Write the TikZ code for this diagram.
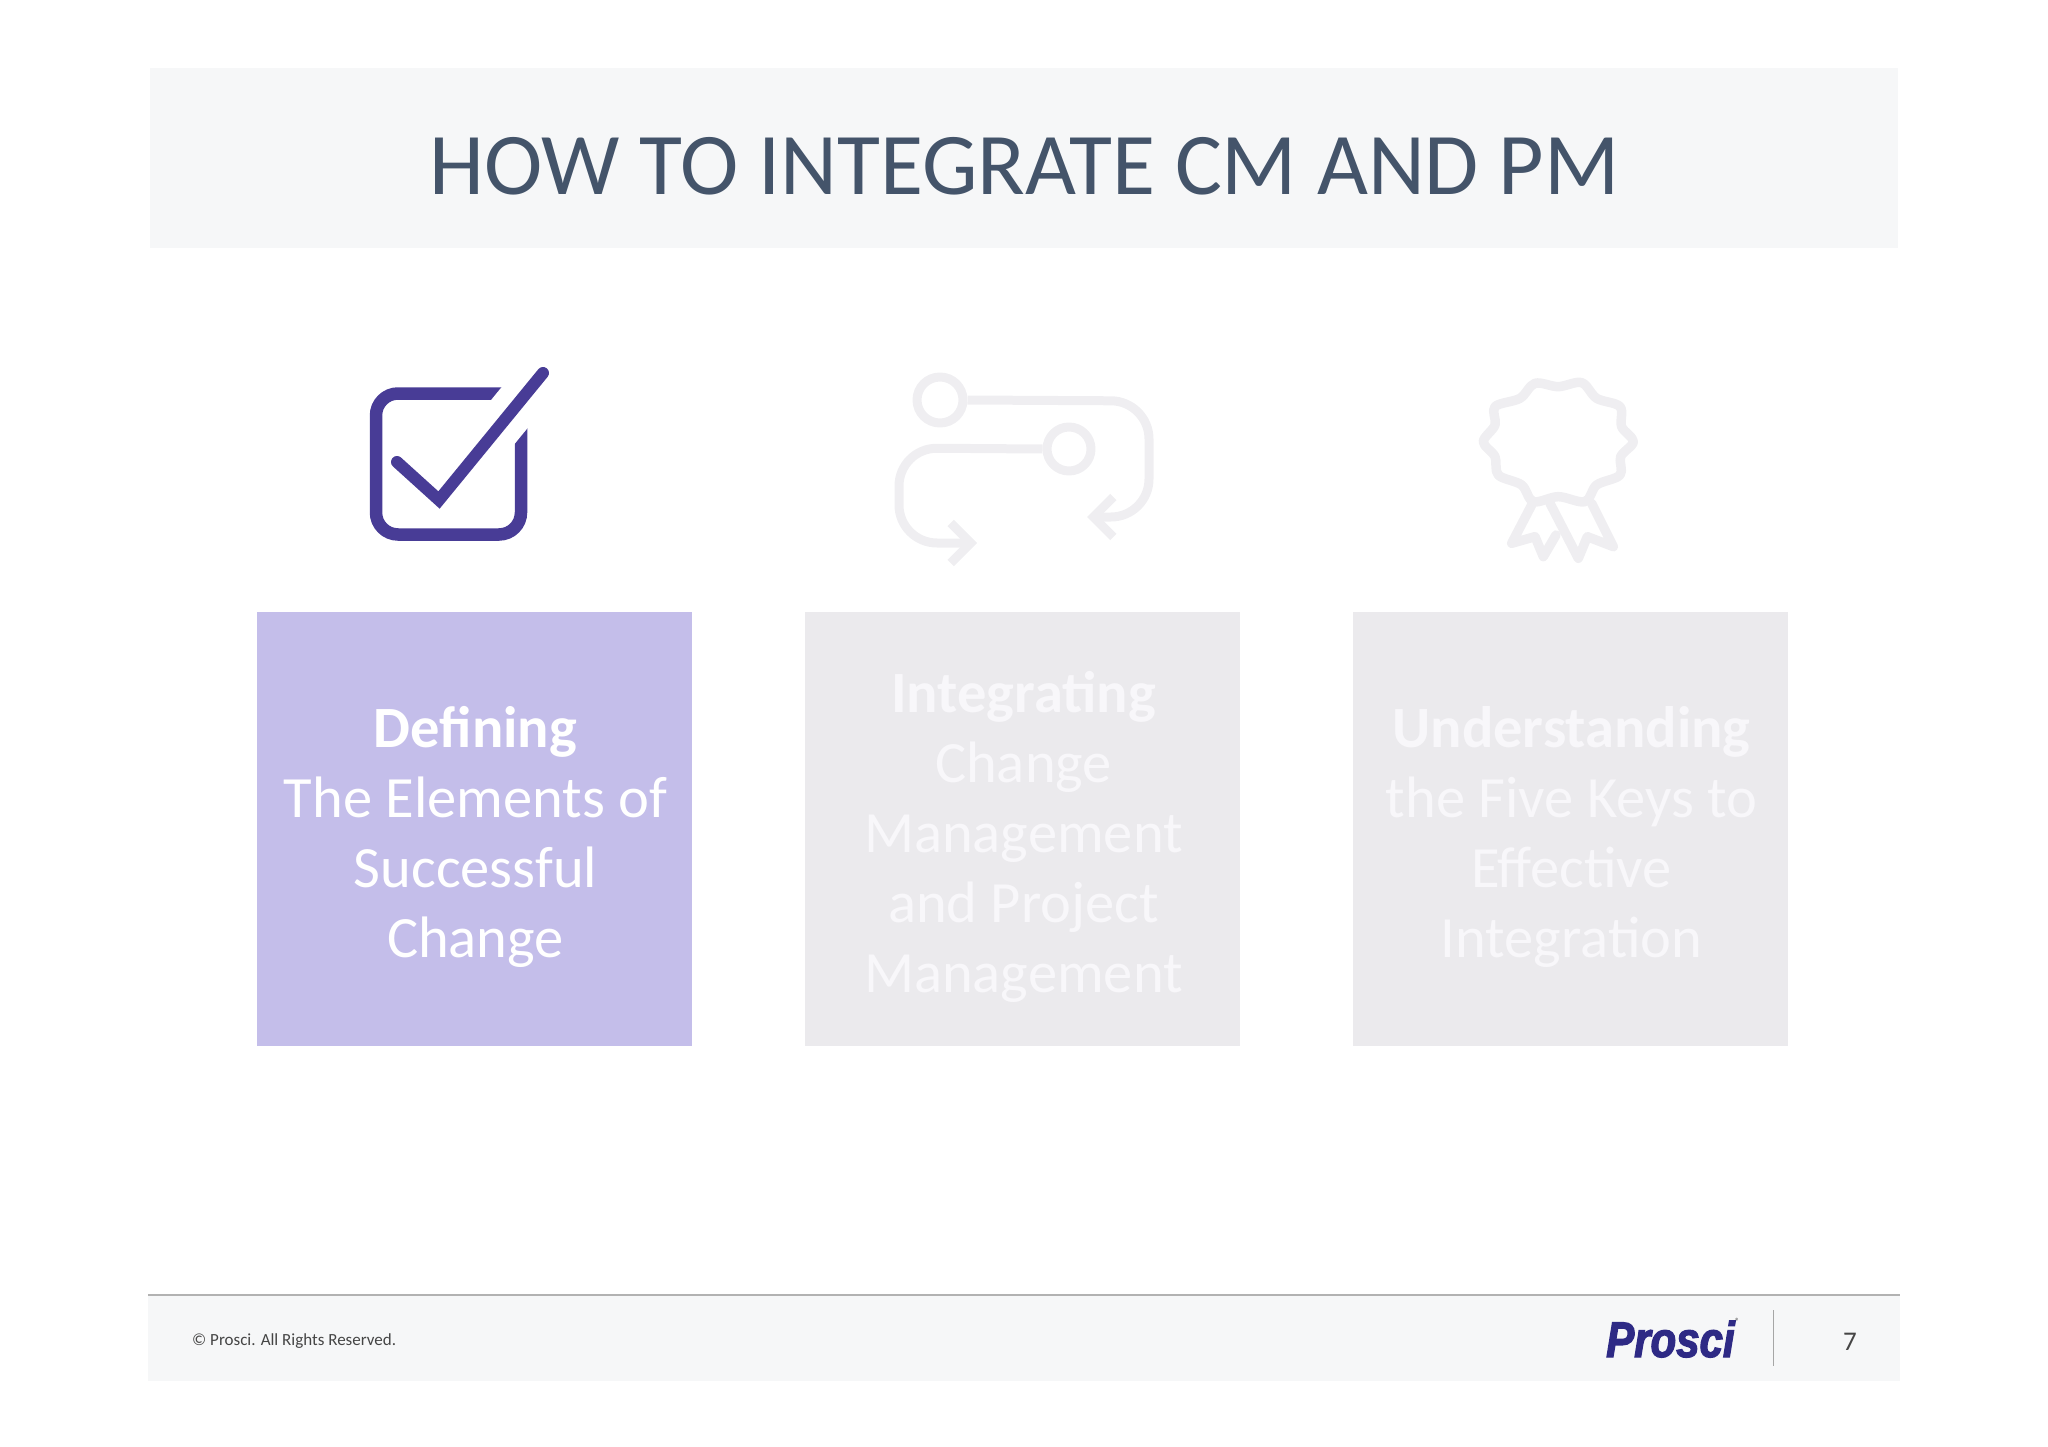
\documentclass[tikz,border=0pt]{standalone}
\usepackage{fontspec}
\setmainfont{Carlito}
\newfontfamily\logofont[FakeStretch=0.84,FakeBold=2.5]{Liberation Sans}
\usetikzlibrary{arrows.meta}
\definecolor{bandgray}{HTML}{F6F7F8}
\definecolor{titleblue}{HTML}{44546A}
\definecolor{checkpurple}{HTML}{483C96}
\definecolor{cardpurple}{HTML}{C4BEEA}
\definecolor{cardgray}{HTML}{EBEAED}
\definecolor{icongray}{HTML}{EFEEF1}
\definecolor{fadewhite}{HTML}{F8F7FA}
\definecolor{logoblue}{HTML}{2E2A85}
\definecolor{footgray}{HTML}{454545}
\tikzset{
  band/.style={fill=bandgray, inner sep=0pt},
  cardbox/.style={inner sep=0pt, minimum width=435pt, minimum height=434pt},
  cardtext/.style={inner sep=0pt, text width=420pt, align=flush center, font=\fontsize{58.5}{70}\selectfont},
  loopline/.style={draw=icongray, line width=9pt, line join=round},
  looparrow/.style={loopline, rounded corners=38pt, -{Straight Barb[length=20pt,width=40pt,line width=9pt]}},
  ringline/.style={draw=icongray, line width=9.5pt, line join=round, line cap=round}
}
\begin{document}
\begin{tikzpicture}[x=1pt,y=-1pt]
\useasboundingbox (0,0) rectangle (2048,1447);
\node[band, minimum width=1748pt, minimum height=180pt] (titleband) at (1024,158) {};
\node[anchor=base, text=titleblue, font=\fontsize{88}{100}\selectfont] (titletext) at (1024.5,195) {HOW TO INTEGRATE CM AND PM};

\draw[draw=checkpurple, line width=12.5pt, rounded corners=22pt] (376,393.5) rectangle (521,534.5);
\coordinate (checkstart) at (397,462);
\coordinate (checkvertex) at (439,500);
\coordinate (checkend) at (543,373);
\draw[white, line width=46pt] (checkvertex) -- (565,346);
\draw[draw=checkpurple, line width=12pt, line cap=round, miter limit=10] (checkstart) -- (checkvertex) -- (checkend);

\node[circle, loopline, minimum size=46pt, inner sep=0pt] (loopa) at (940,400) {};
\node[circle, loopline, minimum size=44pt, inner sep=0pt] (loopb) at (1069,449) {};
\coordinate (tipa) at (1087,517);
\coordinate (tipb) at (977,543);
\draw[looparrow] (loopa.east) -- (1149,401) -- (1149,517) -- (tipa);
\draw[looparrow] (loopb.west) -- (899,448) -- (899,543) -- (tipb);

\begin{scope}[shift={(1450,360)},x=0.3333pt,y=-0.3333pt]
\draw[ringline] plot[smooth cycle, tension=0.55] coordinates {(325,80) (395,68) (440,115) (510,140) (515,200) (550,245) (512,290) (510,345) (440,375) (405,425) (325,410) (250,425) (215,375) (145,345) (135,290) (100,245) (135,195) (135,140) (210,115) (255,70)};
\draw[ringline] (245,435) -- (185,550) -- (255,530) -- (280,590) -- (318,525);
\draw[ringline] (300,430) -- (385,595) -- (412,530) -- (490,560) -- (425,430);
\end{scope}

\node[cardbox, fill=cardpurple] (carddefine) at (474.5,829) {};
\node[cardbox, fill=cardgray] (cardintegrate) at (1022.5,829) {};
\node[cardbox, fill=cardgray] (cardunderstand) at (1570.5,829) {};
\node[cardtext, text=white] (textdefine) at ([xshift=1pt,yshift=-8pt]carddefine.center) {\textbf{Defining}\\The Elements of\\Successful\\Change};
\node[cardtext, text=fadewhite] (textintegrate) at ([xshift=1pt,yshift=-8pt]cardintegrate.center) {\textbf{Integrating}\\Change\\Management\\and Project\\Management};
\node[cardtext, text=fadewhite] (textunderstand) at ([xshift=1pt,yshift=-8pt]cardunderstand.center) {\textbf{Understanding}\\the Five Keys to\\Effective\\Integration};

\node[band, minimum width=1752pt, minimum height=86pt] (footband) at (1024,1338) {};
\draw[draw=black!30, line width=1.6pt] (footband.north west) -- (footband.north east);
\node[anchor=base west, inner sep=0pt, text=footgray, font=\fontsize{17}{22}\selectfont] (copyright) at (192,1345) {© Prosci. All Rights Reserved.};
\node[anchor=base west, inner sep=0pt, text=logoblue, font=\logofont\bfseries\itshape\fontsize{50}{60}\selectfont] (logo) at (1606,1357) {Prosci};
\node[anchor=west, inner sep=0pt, text=black!70, font=\fontsize{9}{9}\selectfont] (logomark) at (1735,1321) {®};
\coordinate (dividertop) at (1773,1310);
\coordinate (dividerbottom) at (1773,1366);
\draw[draw=black!35, line width=1pt] (dividertop) -- (dividerbottom);
\node[anchor=base, inner sep=0pt, text=footgray, font=\fontsize{27}{30}\selectfont] (pagenumber) at (1850,1350) {7};
\end{tikzpicture}
\end{document}
